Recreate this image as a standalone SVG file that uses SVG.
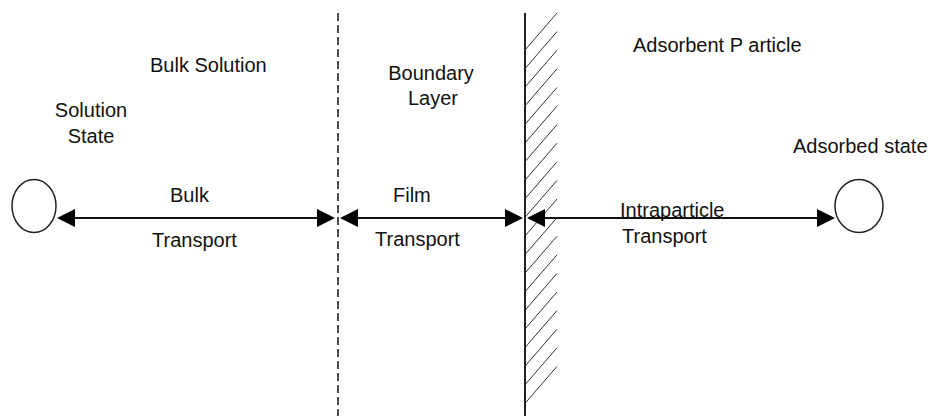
<svg xmlns="http://www.w3.org/2000/svg" width="928" height="416" viewBox="0 0 928 416">
<style>
text{font-family:"Liberation Sans",Arial,sans-serif;font-size:20px;fill:#111}
.st{fill:#fff;stroke:#222;stroke-width:1.5}
.ln{stroke:#111;stroke-width:2;fill:none}
.hatch line{stroke:#333;stroke-width:1}
</style>
<defs>
<marker id="ah" markerUnits="userSpaceOnUse" markerWidth="18" markerHeight="18" refX="16" refY="9" orient="auto-start-reverse">
<path d="M0,0 L18,9 L0,18 z" fill="#000"/>
</marker>
</defs>
<rect width="928" height="416" fill="#fff"/>
<g id="boundary-dashed">
<line x1="338" y1="13" x2="338" y2="416" stroke="#222" stroke-width="1.6" stroke-dasharray="8 4"/>
</g>
<g id="particle-wall">
<line x1="525" y1="13" x2="525" y2="416" stroke="#222" stroke-width="2"/>
<g class="hatch">
<line x1="525" y1="50" x2="557" y2="13"/>
<line x1="525" y1="68.6" x2="557" y2="31.6"/>
<line x1="525" y1="87.2" x2="557" y2="50.2"/>
<line x1="525" y1="105.8" x2="557" y2="68.8"/>
<line x1="525" y1="124.4" x2="557" y2="87.4"/>
<line x1="525" y1="143" x2="557" y2="106"/>
<line x1="525" y1="161.6" x2="557" y2="124.6"/>
<line x1="525" y1="180.2" x2="557" y2="143.2"/>
<line x1="525" y1="198.8" x2="557" y2="161.8"/>
<line x1="525" y1="217.4" x2="557" y2="180.4"/>
<line x1="525" y1="236" x2="557" y2="199"/>
<line x1="525" y1="254.6" x2="557" y2="217.6"/>
<line x1="525" y1="273.2" x2="557" y2="236.2"/>
<line x1="525" y1="291.8" x2="557" y2="254.8"/>
<line x1="525" y1="310.4" x2="557" y2="273.4"/>
<line x1="525" y1="329" x2="557" y2="292"/>
<line x1="525" y1="347.6" x2="557" y2="310.6"/>
<line x1="525" y1="366.2" x2="557" y2="329.2"/>
<line x1="525" y1="384.8" x2="557" y2="347.8"/>
<line x1="525" y1="403.4" x2="557" y2="366.4"/>
</g>
</g>
<g id="solution-state">
<ellipse class="st" cx="34" cy="206" rx="22" ry="26.5"/>
<text x="91" y="117" text-anchor="middle">Solution</text>
<text x="91" y="143" text-anchor="middle">State</text>
</g>
<g id="adsorbed-state">
<ellipse class="st" cx="859" cy="206" rx="24" ry="26.5"/>
<text x="793" y="153">Adsorbed state</text>
</g>
<g id="region-labels">
<text x="150" y="72">Bulk Solution</text>
<text x="431" y="80" text-anchor="middle">Boundary</text>
<text x="433" y="105" text-anchor="middle">Layer</text>
<text x="633" y="52">Adsorbent P article</text>
</g>
<g id="connectors">
<line class="ln" x1="59" y1="218" x2="333" y2="218" marker-start="url(#ah)" marker-end="url(#ah)"/>
<line class="ln" x1="342" y1="218" x2="521" y2="218" marker-start="url(#ah)" marker-end="url(#ah)"/>
<line class="ln" x1="529" y1="218" x2="833" y2="218" marker-start="url(#ah)" marker-end="url(#ah)"/>
</g>
<g id="transport-labels">
<text x="170" y="202">Bulk</text>
<text x="152" y="247">Transport</text>
<text x="393" y="202">Film</text>
<text x="375" y="246">Transport</text>
<text x="620" y="217">Intraparticle</text>
<text x="622" y="243">Transport</text>
</g>
</svg>
